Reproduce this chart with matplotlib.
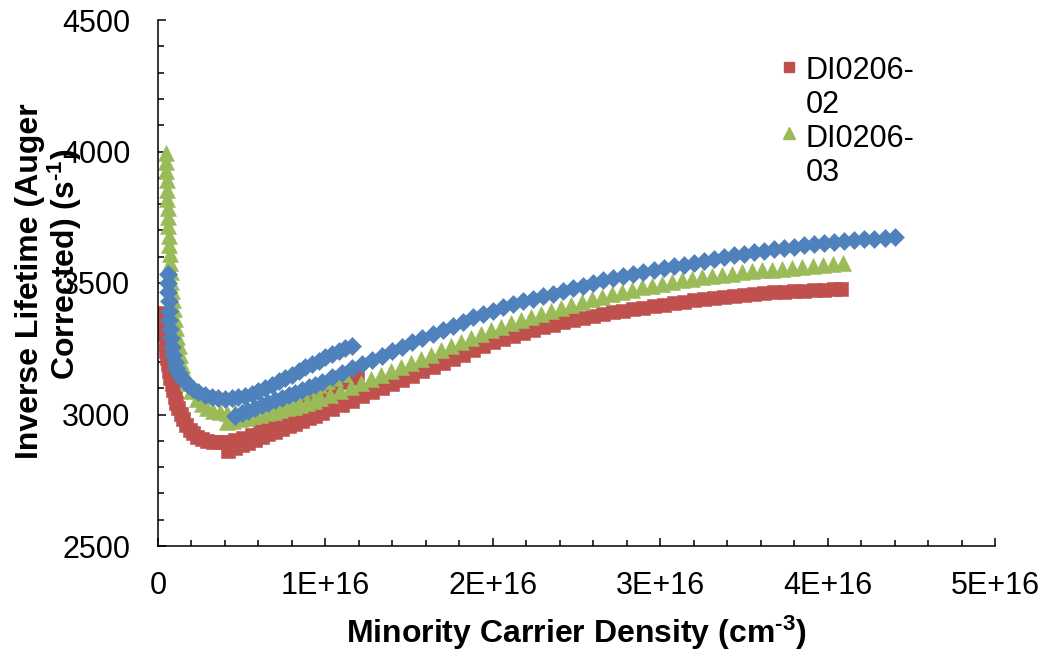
import matplotlib
matplotlib.use("Agg")
import matplotlib.pyplot as plt
from matplotlib.lines import Line2D
from matplotlib.ticker import FixedFormatter, FixedLocator, MultipleLocator

plt.rcParams["font.family"] = ["Liberation Sans", "DejaVu Sans"]
plt.rcParams["mathtext.fontset"] = "custom"
plt.rcParams["mathtext.rm"] = "Liberation Sans:bold"
plt.rcParams["mathtext.default"] = "regular"

SCALE = 1e16  # density values below are in units of 1E+16 cm^-3

# DI0206-02 (red squares): first (low-injection) sweep and main sweep
red_a_x = [0.03, 0.035, 0.04, 0.045, 0.05, 0.055, 0.06, 0.067, 0.074, 0.082, 0.09, 0.10,
           0.11, 0.12, 0.135, 0.15, 0.17, 0.19, 0.21, 0.23, 0.26, 0.29, 0.33, 0.37, 0.41,
           0.46, 0.51, 0.56, 0.61, 0.66, 0.71, 0.76, 0.81, 0.86, 0.91, 0.96, 1.01, 1.06,
           1.11, 1.15, 1.19]
red_a_y = [3385, 3345, 3305, 3268, 3240, 3215, 3192, 3165, 3140, 3115, 3093, 3068,
           3045, 3025, 3003, 2982, 2960, 2942, 2928, 2916, 2905, 2898, 2895, 2895, 2897,
           2902, 2910, 2922, 2937, 2954, 2972, 2990, 3008, 3027, 3046, 3065, 3084, 3104,
           3124, 3140, 3156]
red_b_x = [0.42, 0.46, 0.50, 0.54, 0.58, 0.62, 0.66, 0.70, 0.74, 0.78, 0.82, 0.86, 0.90,
           0.94, 0.98, 1.04, 1.10, 1.16, 1.22, 1.28, 1.34, 1.40, 1.46, 1.52, 1.58, 1.64,
           1.70, 1.76, 1.82, 1.88, 1.94, 2.00, 2.06, 2.12, 2.18, 2.24, 2.30, 2.36, 2.42,
           2.48, 2.54, 2.60, 2.66, 2.72, 2.78, 2.84, 2.90, 2.96, 3.02, 3.08, 3.14, 3.20,
           3.26, 3.32, 3.38, 3.44, 3.50, 3.56, 3.62, 3.68, 3.74, 3.80, 3.86, 3.92, 3.98,
           4.04, 4.08]
red_b_y = [2862, 2872, 2883, 2893, 2903, 2914, 2924, 2934, 2945, 2955, 2965, 2975, 2985,
           2996, 3006, 3022, 3038, 3053, 3069, 3085, 3100, 3116, 3132, 3148, 3164, 3180,
           3196, 3212, 3228, 3245, 3261, 3275, 3288, 3300, 3311, 3321, 3332, 3341, 3350,
           3358, 3366, 3374, 3381, 3388, 3394, 3400, 3406, 3412, 3417, 3423, 3429, 3434,
           3439, 3444, 3448, 3452, 3456, 3459, 3462, 3465, 3467, 3469, 3471, 3473, 3475,
           3476, 3477]

# DI0206-03 (green triangles)
green_a_x = [0.045, 0.047, 0.049, 0.051, 0.053, 0.055, 0.057, 0.059, 0.061, 0.063, 0.066,
             0.069, 0.072, 0.075, 0.079, 0.083, 0.088, 0.093, 0.099, 0.106, 0.114, 0.123,
             0.133, 0.145, 0.16, 0.18, 0.20, 0.23, 0.26, 0.29, 0.33, 0.37, 0.41, 0.46,
             0.51, 0.56, 0.61, 0.66, 0.71, 0.76, 0.81, 0.86, 0.91, 0.96, 1.01, 1.06, 1.11]
green_a_y = [3995, 3960, 3925, 3890, 3855, 3820, 3785, 3750, 3715, 3680, 3645,
             3610, 3575, 3540, 3505, 3470, 3435, 3400, 3365, 3330, 3295, 3260,
             3225, 3190, 3155, 3120, 3090, 3060, 3040, 3025, 3014, 3008, 3006, 3008,
             3013, 3020, 3029, 3039, 3050, 3062, 3075, 3088, 3101, 3114, 3127, 3140, 3153]
green_b_x = [0.41, 0.45, 0.49, 0.53, 0.57, 0.61, 0.65, 0.69, 0.73, 0.77, 0.81, 0.85, 0.89,
             0.93, 0.97, 1.03, 1.09, 1.15, 1.21, 1.27, 1.33, 1.39, 1.45, 1.51, 1.57, 1.63,
             1.69, 1.75, 1.81, 1.87, 1.93, 1.99, 2.05, 2.11, 2.17, 2.23, 2.29, 2.35, 2.41,
             2.47, 2.53, 2.59, 2.65, 2.71, 2.77, 2.83, 2.89, 2.95, 3.01, 3.07, 3.13, 3.19,
             3.25, 3.31, 3.37, 3.43, 3.49, 3.55, 3.61, 3.67, 3.73, 3.79, 3.85, 3.91, 3.97,
             4.03, 4.09]
green_b_y = [2970, 2975, 2981, 2987, 2993, 2999, 3005, 3011, 3017, 3023, 3029, 3035, 3043,
             3052, 3061, 3075, 3090, 3105, 3120, 3135, 3150, 3165, 3180, 3196, 3212, 3228,
             3244, 3260, 3276, 3292, 3307, 3321, 3334, 3347, 3359, 3371, 3383, 3395, 3406,
             3417, 3428, 3438, 3448, 3458, 3467, 3475, 3483, 3490, 3497, 3504, 3511, 3517,
             3522, 3527, 3532, 3536, 3540, 3544, 3548, 3551, 3555, 3558, 3562, 3565, 3569,
             3572, 3576]

# third sample (blue diamonds), its legend entry is cut off in the original
blue_a_x = [0.06, 0.061, 0.062, 0.064, 0.066, 0.068, 0.071, 0.075, 0.082, 0.09, 0.10,
            0.11, 0.125, 0.14, 0.16, 0.18, 0.21, 0.24, 0.28, 0.32, 0.36, 0.40, 0.44,
            0.48, 0.52, 0.56, 0.60, 0.64, 0.68, 0.72, 0.76, 0.80, 0.84, 0.88, 0.92,
            0.96, 1.00, 1.04, 1.08, 1.12, 1.16]
blue_a_y = [3535, 3500, 3465, 3430, 3395, 3360, 3325, 3290, 3255, 3225, 3200,
            3178, 3158, 3140, 3126, 3113, 3098, 3085, 3073, 3065, 3061, 3060, 3062,
            3066, 3071, 3078, 3089, 3101, 3113, 3126, 3139, 3152, 3166, 3179, 3192,
            3205, 3218, 3231, 3243, 3253, 3262]
blue_b_x = [0.46, 0.50, 0.54, 0.58, 0.62, 0.66, 0.70, 0.74, 0.78, 0.82, 0.86, 0.90, 0.94,
            0.98, 1.04, 1.10, 1.16, 1.22, 1.28, 1.34, 1.40, 1.46, 1.52, 1.58, 1.64, 1.70,
            1.76, 1.82, 1.88, 1.94, 2.00, 2.06, 2.12, 2.18, 2.24, 2.30, 2.36, 2.42, 2.48,
            2.54, 2.60, 2.66, 2.72, 2.78, 2.84, 2.90, 2.96, 3.02, 3.08, 3.14, 3.20, 3.26,
            3.32, 3.38, 3.44, 3.50, 3.56, 3.62, 3.68, 3.74, 3.80, 3.86, 3.92, 3.98, 4.04,
            4.10, 4.16, 4.22, 4.28, 4.34, 4.40]
blue_b_y = [2995, 3005, 3015, 3025, 3035, 3044, 3054, 3063, 3073, 3082, 3092, 3103, 3114,
            3125, 3142, 3158, 3175, 3191, 3208, 3224, 3241, 3257, 3274, 3290, 3306, 3322,
            3338, 3353, 3369, 3383, 3395, 3407, 3419, 3430, 3440, 3450, 3460, 3470, 3480,
            3490, 3500, 3510, 3519, 3527, 3535, 3543, 3550, 3557, 3564, 3570, 3577, 3584,
            3591, 3598, 3605, 3612, 3618, 3623, 3628, 3633, 3638, 3643, 3648, 3652, 3656,
            3659, 3663, 3666, 3669, 3672, 3675]

legend_labels = ["DI0206-\n02", "DI0206-\n03"]
x_ticks = [0, 1, 2, 3, 4, 5]
x_tick_labels = ["0", "1E+16", "2E+16", "3E+16", "4E+16", "5E+16"]
y_ticks = [2500, 3000, 3500, 4000, 4500]

RED, GREEN, BLUE = "#C0504D", "#9BBB59", "#4F81BD"
W, H = 1047, 651

fig = plt.figure(figsize=(W / 100, H / 100), dpi=100)
ax = fig.add_axes([158 / W, 105 / H, 837 / W, 526 / H])

series = [
    (red_a_x, red_a_y, red_b_x, red_b_y, RED, "s", 9.8),
    (green_a_x, green_a_y, green_b_x, green_b_y, GREEN, "^", 12.0),
    (blue_a_x, blue_a_y, blue_b_x, blue_b_y, BLUE, "D", 9.5),
]
for ax_, ay_, bx_, by_, color, marker, ms in series:
    for xs, ys in ((ax_, ay_), (bx_, by_)):
        ax.plot([v * SCALE for v in xs], ys, linestyle="none", marker=marker,
                markersize=ms, color=color, markeredgecolor=color, markeredgewidth=0.4)

ax.set_xlim(0, 5 * SCALE)
ax.set_ylim(2500, 4500)
ax.xaxis.set_major_locator(FixedLocator([t * SCALE for t in x_ticks]))
ax.xaxis.set_major_formatter(FixedFormatter(x_tick_labels))
ax.xaxis.set_minor_locator(MultipleLocator(0.2 * SCALE))
ax.yaxis.set_major_locator(FixedLocator(y_ticks))
ax.yaxis.set_minor_locator(MultipleLocator(100))

for side in ("top", "right"):
    ax.spines[side].set_visible(False)
for side in ("left", "bottom"):
    ax.spines[side].set_linewidth(1.1)
ax.tick_params(which="both", direction="in", width=1.1, labelsize=22)
ax.tick_params(which="major", length=5.5)
ax.tick_params(which="minor", length=4)
ax.tick_params(axis="x", which="major", pad=18)
ax.tick_params(axis="y", which="major", pad=20)

ax.set_xlabel(r"Minority Carrier Density (cm$^{\text{-3}}$)", fontsize=23, fontweight="bold")
ax.xaxis.set_label_coords(0.5, -0.128)

# y title is two wrapped lines in the original, the second slightly off-centre
fig.text(30 / W, 1 - 281 / H, "Inverse Lifetime (Auger", rotation=90, fontsize=23,
         fontweight="bold", ha="center", va="center")
fig.text(65 / W, 1 - 264 / H, r"Corrected) (s$^{\text{-1}}$)", rotation=90, fontsize=23,
         fontweight="bold", ha="center", va="center")

# legend drawn by hand: marker sits on the first line of each wrapped label
legend_style = [(RED, "s", 7.5), (GREEN, "^", 9.0)]
for i, (label, (color, marker, ms)) in enumerate(zip(legend_labels, legend_style)):
    fig.add_artist(Line2D([789 / W], [1 - (67 + i * 66) / H], marker=marker, markersize=ms,
                          color=color, linestyle="none", transform=fig.transFigure))
    fig.text(806 / W, 1 - (113 + i * 68) / H, label, fontsize=22, va="baseline",
             ha="left", linespacing=1.17)

fig.savefig("out.png", dpi=100)
